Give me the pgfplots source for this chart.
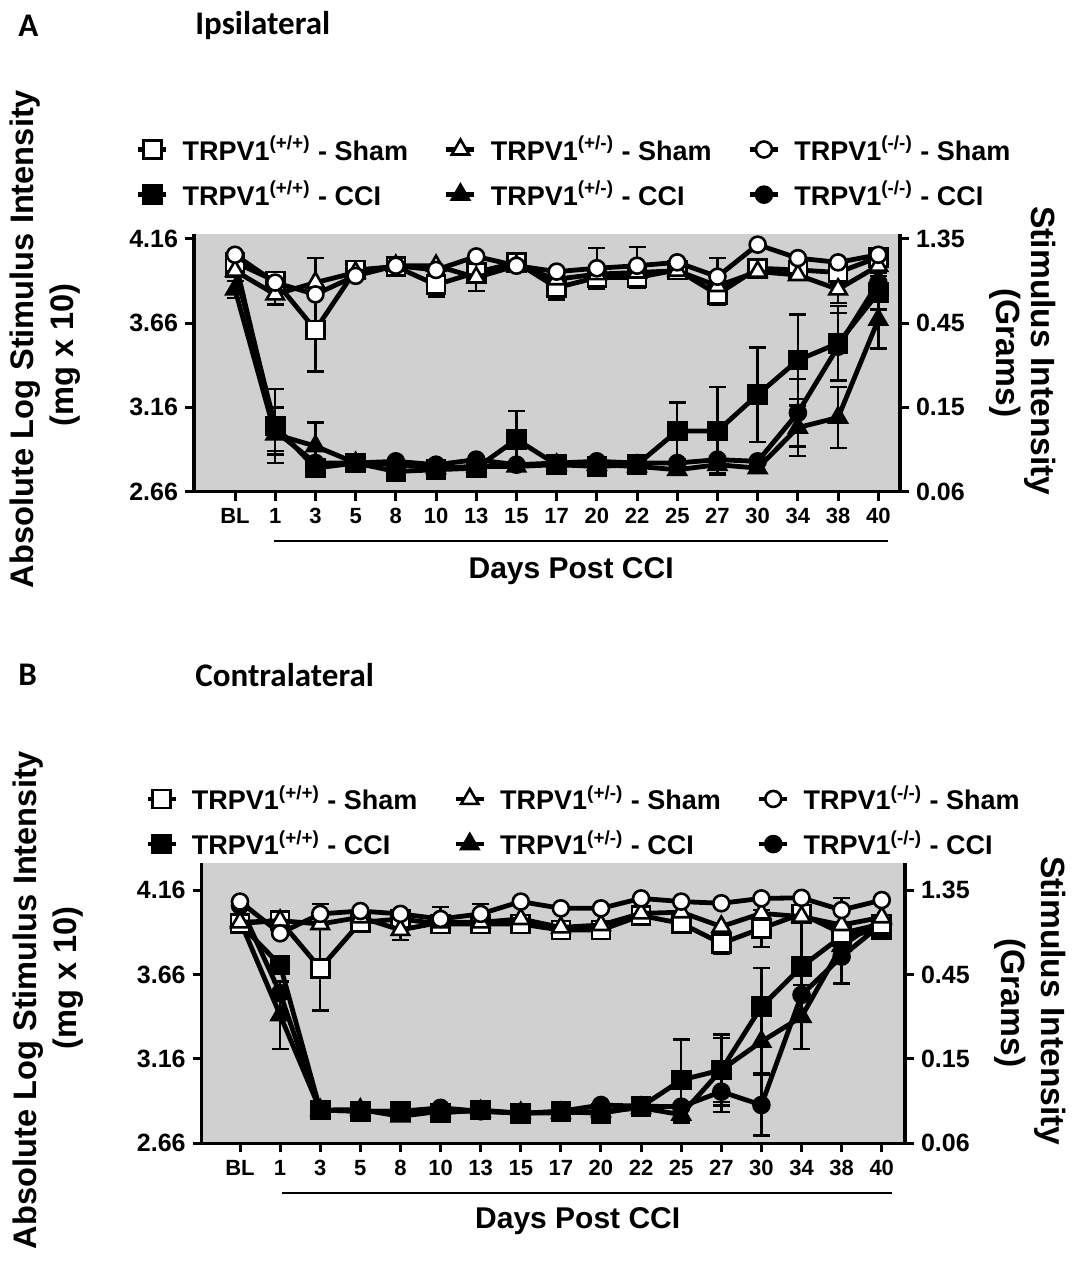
\documentclass[border=0pt]{standalone}
\usepackage{fontspec}
\setmainfont{Liberation Sans}
\newfontfamily\calibri{Carlito}
\usepackage{pgfplots}
\pgfplotsset{compat=1.18}
\definecolor{bggray}{RGB}{208,208,208}
\newcommand{\fs}[1]{\fontsize{#1}{#1}\selectfont}

\pgfplotsset{
  panel/.style={
    scale only axis, clip mode=individual,
    axis x line*=bottom, axis y line*=left,
    axis line style={-, line width=1.75pt},
    axis background/.style={fill=bggray},
    xtick={0,...,16},
    xticklabels={BL,1,3,5,8,10,13,15,17,20,22,25,27,30,34,38,40},
    ytick={2.66,3.16,3.66,4.16},
    yticklabels={2.66,3.16,3.66,4.16},
    ymin=2.66,
    tick align=outside, major tick length=4.5pt,
    every tick/.style={black, line width=1.5pt},
    x tick label style={font=\bfseries\fs{11}, text height=8pt, text depth=0pt},
    y tick label style={font=\bfseries\fs{12.5}},
    legend columns=3, legend cell align=left,
    legend style={draw=none, fill=none, inner sep=0pt, anchor=north west,
      font=\bfseries\fs{13.5},
      /tikz/every odd column/.append style={column sep=5pt},
      /tikz/every even column/.append style={column sep=16pt}, row sep=5pt},
    legend image code/.code={\draw[mark repeat=2,mark phase=2]
      plot coordinates {(0pt,0pt) (7pt,0pt) (14pt,0pt)};},
  },
  rightax/.style={
    scale only axis, ymin=2.66, hide x axis,
    axis y line*=right, axis line style={-, line width=1.75pt},
    ytick={2.66,3.16,3.66,4.16},
    yticklabels={0.06,0.15,0.45,1.35},
    tick align=outside, major tick length=4.5pt,
    every tick/.style={black, line width=1.5pt},
    y tick label style={font=\bfseries\fs{12.5}},
  },
  ln/.style={black, line width=2.4pt},
  sqW/.style={ln, mark=square*, mark size=4.5pt, mark options={solid, fill=white, draw=black, line width=1.3pt}},
  trW/.style={ln, mark=triangle*, mark size=5pt, mark options={solid, fill=white, draw=black, line width=1.3pt}},
  ciW/.style={ln, mark=*, mark size=4pt, mark options={solid, fill=white, draw=black, line width=1.3pt}},
  sqB/.style={ln, mark=square*, mark size=4.5pt, mark options={solid, fill=black, draw=black, line width=1.3pt}},
  trB/.style={ln, mark=triangle*, mark size=5pt, mark options={solid, fill=black, draw=black, line width=1.3pt}},
  ciB/.style={ln, mark=*, mark size=4pt, mark options={solid, fill=black, draw=black, line width=1.3pt}},
  eb/.style={only marks, mark=none, forget plot, black,
    /pgfplots/error bars/y dir=both, /pgfplots/error bars/y explicit,
    /pgfplots/error bars/error bar style={line width=1.2pt, black},
    /pgfplots/error bars/error mark options={rotate=90, mark size=4.25pt, line width=1.2pt, black}},
}

\begin{document}
\begin{tikzpicture}
\useasboundingbox (0,0) rectangle (537.5pt,632pt);

% ---------------- panel A ----------------
\node[anchor=west, inner sep=0pt, font=\calibri\bfseries\fs{16.5}] at (9pt,619pt) {A};
\node[anchor=west, inner sep=0pt, font=\calibri\bfseries\fs{16.5}] at (97.5pt,619pt) {Ipsilateral};
\node[rotate=90, font=\bfseries\fs{16.3}] at (12.5pt,462.5pt) {Absolute Log Stimulus Intensity};
\node[rotate=90, font=\bfseries\fs{16.3}] at (32.5pt,454.5pt) {(mg x 10)};
\node[rotate=-90, font=\bfseries\fs{16.8}] at (520pt,456.5pt) {Stimulus Intensity};
\node[rotate=-90, font=\bfseries\fs{16.8}] at (502.5pt,455.5pt) {(Grams)};

\begin{axis}[panel, at={(97pt,386.15pt)}, anchor=south west,
  width=353pt, height=129pt, xmin=-1.02, xmax=16.54, ymax=4.19,
  legend style={at={(-0.083,1.396)}}]
\addlegendimage{sqW}\addlegendentry{TRPV1\textsuperscript{(+/+)} - Sham}
\addlegendimage{trW}\addlegendentry{TRPV1\textsuperscript{(+/-)} - Sham}
\addlegendimage{ciW}\addlegendentry{TRPV1\textsuperscript{(-/-)} - Sham}
\addlegendimage{sqB}\addlegendentry{TRPV1\textsuperscript{(+/+)} - CCI}
\addlegendimage{trB}\addlegendentry{TRPV1\textsuperscript{(+/-)} - CCI}
\addlegendimage{ciB}\addlegendentry{TRPV1\textsuperscript{(-/-)} - CCI}
% error bars (SEM)
\addplot[eb] coordinates {
(2,3.62) += (0,0.427) -= (0,0.247)
(5,3.887) +- (0,0.07) (8,3.87) +- (0,0.07) (10,3.93) +- (0,0.06)
(12,3.83) +- (0,0.06) (15,3.96) +- (0,0.07)
(1,3.83) +- (0,0.06) (6,3.93) +- (0,0.08) (15,3.86) +- (0,0.08) (16,4.0) +- (0,0.04)
(9,3.985) +- (0,0.12) (10,4.0) +- (0,0.11) (12,3.935) +- (0,0.11)
(1,3.05) +- (0,0.22) (7,2.97) +- (0,0.17) (11,3.02) +- (0,0.17) (12,3.02) +- (0,0.26)
(13,3.235) +- (0,0.28) (14,3.44) +- (0,0.27) (15,3.54) +- (0,0.22) (16,3.84) +- (0,0.1)
(0,3.86) +- (0,0.05) (1,3.0) +- (0,0.1) (2,2.93) +- (0,0.14) (12,2.82) +- (0,0.05)
(14,3.04) +- (0,0.17) (15,3.10) +- (0,0.18) (16,3.68) +- (0,0.17)
(1,3.02) +- (0,0.14) (14,3.128) +- (0,0.2) (15,3.52) +- (0,0.2)
};
% CCI
\addplot[sqB, forget plot] coordinates {(0,3.99) (1,3.05) (2,2.80) (3,2.83) (4,2.78) (5,2.79) (6,2.80) (7,2.97) (8,2.82) (9,2.81) (10,2.82) (11,3.02) (12,3.02) (13,3.235) (14,3.44) (15,3.54) (16,3.84)};
\addplot[trB, forget plot] coordinates {(0,3.86) (1,3.0) (2,2.93) (3,2.83) (4,2.82) (5,2.80) (6,2.81) (7,2.81) (8,2.82) (9,2.82) (10,2.81) (11,2.79) (12,2.82) (13,2.80) (14,3.04) (15,3.10) (16,3.68)};
\addplot[ciB, forget plot] coordinates {(0,4.03) (1,3.02) (2,2.83) (3,2.83) (4,2.84) (5,2.82) (6,2.85) (7,2.82) (8,2.83) (9,2.84) (10,2.83) (11,2.83) (12,2.85) (13,2.84) (14,3.128) (15,3.52) (16,3.90)};
% Sham
\addplot[sqW, forget plot] coordinates {(0,4.02) (1,3.91) (2,3.62) (3,3.975) (4,3.995) (5,3.887) (6,3.96) (7,4.02) (8,3.87) (9,3.93) (10,3.93) (11,3.975) (12,3.83) (13,3.985) (14,3.975) (15,3.96) (16,4.05)};
\addplot[trW, forget plot] coordinates {(0,3.97) (1,3.83) (2,3.90) (3,3.96) (4,4.0) (5,4.0) (6,3.93) (7,4.0) (8,3.92) (9,3.95) (10,3.96) (11,3.97) (12,3.88) (13,3.965) (14,3.945) (15,3.86) (16,4.0)};
\addplot[ciW, forget plot] coordinates {(0,4.065) (1,3.90) (2,3.83) (3,3.94) (4,4.0) (5,3.975) (6,4.055) (7,4.0) (8,3.965) (9,3.985) (10,4.0) (11,4.02) (12,3.935) (13,4.125) (14,4.045) (15,4.02) (16,4.065)};
\draw[line width=1pt] ([yshift=-24.6pt]axis cs:0.98,2.66) -- ([yshift=-24.6pt]axis cs:16.25,2.66);
\node[font=\bfseries\fs{15}] at ([yshift=-39.5pt]axis cs:8.36,2.66) {Days Post CCI};
\end{axis}
\begin{axis}[rightax, at={(97pt,386.15pt)}, anchor=south west,
  width=353pt, height=129pt, xmin=-1.02, xmax=16.54, ymax=4.19]
\addplot[draw=none, forget plot] coordinates {(0,3)};
\end{axis}

% ---------------- panel B ----------------
\node[anchor=west, inner sep=0pt, font=\calibri\bfseries\fs{16.5}] at (9pt,294.5pt) {B};
\node[anchor=west, inner sep=0pt, font=\calibri\bfseries\fs{16.5}] at (97.5pt,294.5pt) {Contralateral};
\node[rotate=90, font=\bfseries\fs{16.3}] at (14pt,132pt) {Absolute Log Stimulus Intensity};
\node[rotate=90, font=\bfseries\fs{16.3}] at (34pt,143pt) {(mg x 10)};
\node[rotate=-90, font=\bfseries\fs{16.8}] at (525pt,131.5pt) {Stimulus Intensity};
\node[rotate=-90, font=\bfseries\fs{16.8}] at (505pt,130.5pt) {(Grams)};

\begin{axis}[panel, at={(100.85pt,60.35pt)}, anchor=south west,
  width=351.65pt, height=140pt, xmin=-0.955, xmax=16.58, ymax=4.32,
  legend style={at={(-0.081,1.294)}}]
\addlegendimage{sqW}\addlegendentry{TRPV1\textsuperscript{(+/+)} - Sham}
\addlegendimage{trW}\addlegendentry{TRPV1\textsuperscript{(+/-)} - Sham}
\addlegendimage{ciW}\addlegendentry{TRPV1\textsuperscript{(-/-)} - Sham}
\addlegendimage{sqB}\addlegendentry{TRPV1\textsuperscript{(+/+)} - CCI}
\addlegendimage{trB}\addlegendentry{TRPV1\textsuperscript{(+/-)} - CCI}
\addlegendimage{ciB}\addlegendentry{TRPV1\textsuperscript{(-/-)} - CCI}
\addplot[eb] coordinates {
(2,3.697) +- (0,0.25) (12,3.845) +- (0,0.06) (13,3.934) +- (0,0.11)
(4,3.925) +- (0,0.06)
(2,4.02) +- (0,0.06) (5,3.99) +- (0,0.07) (6,4.02) +- (0,0.06) (15,4.043) +- (0,0.07)
(11,3.035) +- (0,0.24) (12,3.095) +- (0,0.21) (13,3.47) +- (0,0.23)
(14,3.707) += (0,0.32) -= (0,0.15)
(1,3.42) +- (0,0.2) (11,2.83) +- (0,0.05) (12,3.095) +- (0,0.19) (13,3.263) +- (0,0.19) (14,3.41) +- (0,0.19)
(12,2.966) +- (0,0.12) (13,2.887) +- (0,0.18) (15,3.767) +- (0,0.16)
};
\addplot[sqB, forget plot] coordinates {(0,3.96) (1,3.717) (2,2.857) (3,2.85) (4,2.85) (5,2.84) (6,2.857) (7,2.838) (8,2.847) (9,2.838) (10,2.877) (11,3.035) (12,3.095) (13,3.47) (14,3.707) (15,3.887) (16,3.924)};
\addplot[trB, forget plot] coordinates {(0,3.98) (1,3.42) (2,2.857) (3,2.86) (4,2.82) (5,2.85) (6,2.85) (7,2.84) (8,2.84) (9,2.85) (10,2.87) (11,2.83) (12,3.095) (13,3.263) (14,3.41) (15,3.83) (16,3.99)};
\addplot[ciB, forget plot] coordinates {(0,4.07) (1,3.55) (2,2.857) (3,2.85) (4,2.85) (5,2.87) (6,2.85) (7,2.838) (8,2.85) (9,2.887) (10,2.88) (11,2.877) (12,2.966) (13,2.887) (14,3.54) (15,3.767) (16,3.96)};
\addplot[sqW, forget plot] coordinates {(0,3.964) (1,3.98) (2,3.697) (3,3.97) (4,3.99) (5,3.96) (6,3.96) (7,3.96) (8,3.924) (9,3.924) (10,4.01) (11,3.964) (12,3.845) (13,3.934) (14,4.02) (15,3.905) (16,3.96)};
\addplot[trW, forget plot] coordinates {(0,3.97) (1,3.98) (2,3.96) (3,4.0) (4,3.925) (5,3.97) (6,3.97) (7,3.99) (8,3.94) (9,3.954) (10,4.023) (11,4.03) (12,3.945) (13,4.023) (14,4.004) (15,3.954) (16,4.0)};
\addplot[ciW, forget plot] coordinates {(0,4.093) (1,3.905) (2,4.02) (3,4.037) (4,4.02) (5,3.99) (6,4.02) (7,4.093) (8,4.053) (9,4.053) (10,4.112) (11,4.093) (12,4.083) (13,4.112) (14,4.115) (15,4.043) (16,4.102)};
\draw[line width=1pt] ([yshift=-25pt]axis cs:1.05,2.66) -- ([yshift=-25pt]axis cs:16.26,2.66);
\node[font=\bfseries\fs{15}] at ([yshift=-39pt]axis cs:8.42,2.66) {Days Post CCI};
\end{axis}
\begin{axis}[rightax, at={(100.85pt,60.35pt)}, anchor=south west,
  width=351.65pt, height=140pt, xmin=-0.955, xmax=16.58, ymax=4.32]
\addplot[draw=none, forget plot] coordinates {(0,3)};
\end{axis}
\end{tikzpicture}
\end{document}
